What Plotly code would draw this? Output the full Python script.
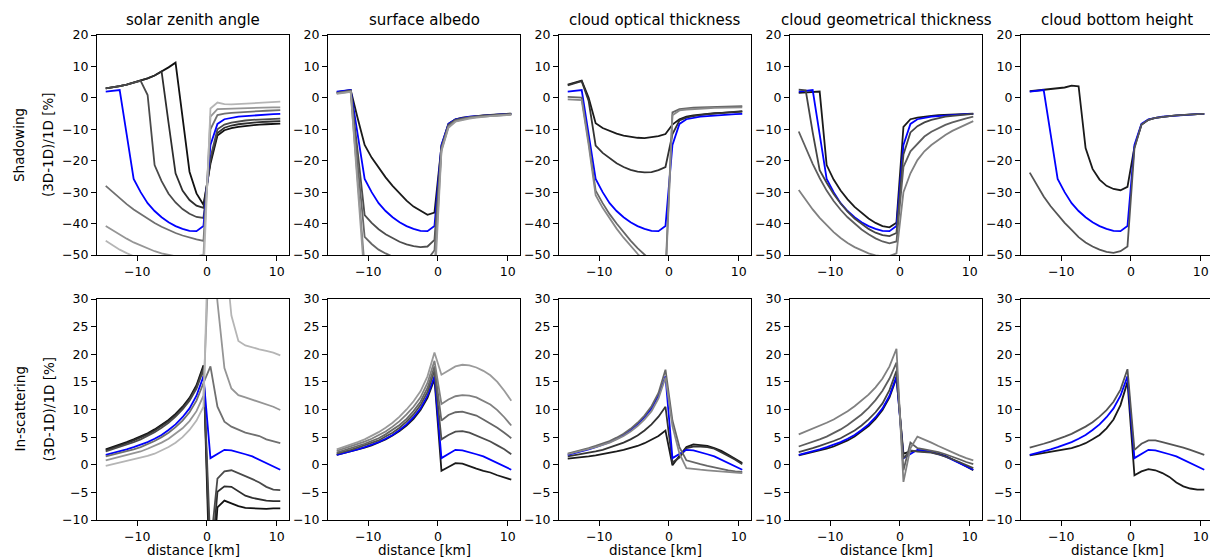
import plotly.graph_objects as go

# ---------------- data ----------------
x_km = [-14.5, -13.5, -12.5, -11.5, -10.5, -9.5, -8.5, -7.5, -6.5, -5.5, -4.5, -3.5, -2.5, -1.5, -0.5,
        0.5, 1.5, 2.5, 3.5, 4.5, 5.5, 6.5, 7.5, 8.5, 9.5, 10.5]

titles = ["solar zenith angle", "surface albedo", "cloud optical thickness",
          "cloud geometrical thickness", "cloud bottom height"]

ref_shadow = [2.0, 2.3, 2.5, -11.6, -25.8, -30.0, -33.5, -36.0, -38.0, -39.6, -40.8, -41.7, -42.3, -42.4, -40.8,
              -15.0, -8.3, -6.8, -6.3, -6.0, -5.8, -5.6, -5.5, -5.3, -5.2, -5.1]
ref_inscat = [1.8, 2.1, 2.4, 2.8, 3.2, 3.6, 4.1, 4.7, 5.4, 6.3, 7.3, 8.6, 10.2, 12.5, 16.0,
              1.2, 2.0, 2.7, 2.6, 2.3, 1.9, 1.5, 0.9, 0.4, -0.2, -0.9]

# solar zenith angle
sza_colors = ["#111111", "#2e2e2e", "#4a4a4a", "blue", "#707070", "#959595", "#b5b5b5"]
sza_shadow = [
    [3.0, 3.3, 3.7, 4.2, 4.8, 5.4, 6.2, 7.1, 8.3, 9.7, 11.2, -6.0, -23.5, -30.4, -34.0,
     -21.0, -12.0, -10.3, -9.6, -9.2, -8.9, -8.7, -8.5, -8.4, -8.3, -8.2],
    [3.0, 3.3, 3.7, 4.2, 4.8, 5.4, 6.2, 7.1, 8.4, -8.0, -24.0, -29.5, -32.5, -34.3, -35.0,
     -20.0, -11.2, -9.5, -8.8, -8.4, -8.1, -7.9, -7.7, -7.6, -7.5, -7.4],
    [3.0, 3.3, 3.7, 4.2, 4.8, 5.4, 0.9, -21.4, -26.5, -30.5, -33.3, -35.4, -36.9, -37.9, -38.2,
     -19.0, -10.0, -8.5, -7.9, -7.5, -7.2, -7.0, -6.9, -6.8, -6.7, -6.6],
    ref_shadow,
    [-28.0, -30.0, -32.0, -33.8, -35.5, -37.0, -38.5, -39.8, -41.0, -42.1, -43.0, -43.8, -44.5, -45.0, -45.5,
     -10.0, -5.5, -5.0, -4.8, -4.6, -4.5, -4.4, -4.2, -4.1, -4.0, -3.9],
    [-40.8, -42.2, -43.5, -44.8, -46.0, -47.0, -48.0, -48.8, -49.5, -50.0, -50.4, -50.6, -50.6, -50.4, -50.0,
     -6.0, -3.6, -3.5, -3.4, -3.3, -3.2, -3.2, -3.1, -3.1, -3.0, -3.0],
    [-45.5, -47.0, -48.3, -49.4, -50.5, -51.5, -52.4, -53.2, -54.0, -54.6, -55.2, -55.6, -56.0, -56.2, -56.0,
     -3.4, -1.5, -2.0, -2.1, -2.0, -1.9, -1.8, -1.7, -1.6, -1.4, -1.2],
]
sza_inscat = [
    [2.8, 3.2, 3.6, 4.1, 4.6, 5.1, 5.7, 6.4, 7.2, 8.1, 9.2, 10.5, 12.1, 14.4, 18.0,
     -25.0, -7.7, -6.5, -7.0, -7.5, -7.8, -7.9, -8.0, -8.0, -7.9, -7.9],
    [2.6, 3.0, 3.4, 3.9, 4.4, 4.9, 5.5, 6.2, 7.0, 7.9, 9.0, 10.3, 11.9, 14.1, 17.6,
     -20.0, -4.9, -3.9, -4.0, -4.8, -5.6, -6.0, -6.3, -6.5, -6.6, -6.6],
    [2.4, 2.8, 3.2, 3.6, 4.1, 4.6, 5.2, 5.9, 6.7, 7.6, 8.7, 10.0, 11.6, 13.8, 17.2,
     -15.0, -2.5, -1.2, -1.0, -1.5, -2.0, -2.6, -3.2, -4.0, -4.5, -4.6],
    ref_inscat,
    [1.5, 1.8, 2.1, 2.4, 2.8, 3.2, 3.7, 4.3, 5.0, 5.8, 6.8, 8.0, 9.5, 11.6, 14.8,
     17.8, 10.5, 7.8, 6.9, 6.4, 5.8, 5.5, 5.2, 4.6, 4.3, 3.9],
    [0.8, 1.1, 1.4, 1.7, 2.0, 2.4, 2.9, 3.4, 4.0, 4.7, 5.6, 6.6, 7.9, 9.7, 12.5,
     45.0, 29.5, 17.5, 13.8, 12.6, 12.2, 11.8, 11.4, 10.9, 10.5, 9.9],
    [-0.2, 0.1, 0.3, 0.6, 0.9, 1.2, 1.6, 2.0, 2.6, 3.2, 4.0, 5.0, 6.3, 8.0, 10.5,
     55.0, 48.0, 40.0, 27.0, 22.4, 21.6, 21.2, 20.9, 20.6, 20.3, 19.8],
]

# surface albedo
alb_colors = ["#1a1a1a", "blue", "#4d4d4d", "#666666", "#808080", "#9a9a9a"]
alb_shadow = [
    [1.8, 2.2, 2.5, -6.5, -15.0, -19.0, -22.3, -25.3, -28.0, -30.5, -32.7, -34.6, -36.0, -37.2, -36.5,
     -15.3, -8.3, -6.8, -6.3, -6.0, -5.8, -5.6, -5.4, -5.3, -5.2, -5.0],
    ref_shadow,
    [1.6, 2.0, 2.3, -17.0, -37.3, -39.8, -41.8, -43.4, -44.7, -45.8, -46.6, -47.2, -47.5, -47.3, -45.2,
     -15.8, -8.6, -7.0, -6.5, -6.1, -5.9, -5.7, -5.5, -5.4, -5.3, -5.1],
    [1.5, 1.9, 2.2, -21.0, -44.2, -46.5, -48.3, -49.5, -50.5, -51.2, -51.8, -52.0, -52.0, -51.5, -48.5,
     -16.2, -8.9, -7.2, -6.6, -6.2, -6.0, -5.8, -5.6, -5.5, -5.3, -5.2],
    [1.4, 1.8, 2.0, -26.0, -54.0, -56.0, -57.5, -58.5, -59.2, -59.7, -60.0, -60.0, -59.8, -59.0, -55.0,
     -16.6, -9.2, -7.4, -6.8, -6.4, -6.1, -5.9, -5.7, -5.6, -5.4, -5.3],
    [1.3, 1.7, 1.9, -28.0, -58.0, -60.0, -61.5, -62.5, -63.2, -63.7, -64.0, -64.0, -63.8, -63.0, -60.0,
     -17.0, -9.5, -7.6, -7.0, -6.6, -6.3, -6.0, -5.8, -5.7, -5.5, -5.4],
]
alb_inscat = [
    [1.8, 2.1, 2.4, 2.7, 3.1, 3.5, 4.0, 4.6, 5.3, 6.1, 7.1, 8.3, 9.9, 12.1, 15.5,
     -1.1, -0.4, 0.3, 0.2, -0.3, -0.7, -1.1, -1.4, -1.9, -2.3, -2.7],
    ref_inscat,
    [2.0, 2.3, 2.7, 3.1, 3.5, 3.9, 4.4, 5.1, 5.8, 6.7, 7.8, 9.1, 10.8, 13.2, 17.0,
     4.6, 5.4, 6.0, 6.1, 5.8, 5.3, 4.7, 4.2, 3.5, 2.8, 1.9],
    [2.2, 2.6, 2.9, 3.3, 3.8, 4.3, 4.8, 5.5, 6.3, 7.2, 8.3, 9.7, 11.4, 13.9, 17.8,
     8.0, 9.0, 9.5, 9.6, 9.3, 8.9, 8.2, 7.5, 6.7, 5.8, 4.8],
    [2.5, 2.9, 3.3, 3.7, 4.2, 4.7, 5.3, 6.0, 6.9, 7.9, 9.1, 10.5, 12.2, 14.8, 18.8,
     11.0, 11.8, 12.4, 12.6, 12.5, 12.2, 11.6, 10.9, 9.9, 8.6, 7.1],
    [2.8, 3.2, 3.6, 4.1, 4.6, 5.2, 5.9, 6.7, 7.6, 8.7, 10.0, 11.5, 13.3, 16.0, 20.3,
     16.3, 17.0, 17.8, 18.1, 18.0, 17.6, 17.0, 16.2, 15.0, 13.4, 11.6],
]

# cloud optical thickness
cot_colors = ["#1a1a1a", "#333333", "blue", "#666666", "#888888"]
cot_shadow = [
    [4.2, 4.8, 5.5, 0.0, -8.1, -9.6, -10.6, -11.4, -12.0, -12.4, -12.7, -12.8, -12.6, -12.2, -11.5,
     -8.5, -6.8, -6.0, -5.6, -5.3, -5.1, -4.9, -4.8, -4.7, -4.6, -4.4],
    [4.0, 4.7, 5.3, -1.0, -15.2, -17.5, -19.3, -20.8, -22.0, -22.9, -23.5, -23.7, -23.6, -23.0, -22.0,
     -11.5, -7.2, -6.3, -5.8, -5.4, -5.2, -5.0, -4.8, -4.6, -4.4, -4.2],
    ref_shadow,
    [0.3, 0.2, 0.1, -14.0, -29.5, -33.5, -37.0, -40.0, -42.8, -45.4, -47.8, -50.0, -52.0, -54.0, -56.0,
     -4.6, -3.6, -3.3, -3.1, -3.0, -2.9, -2.8, -2.8, -2.7, -2.7, -2.6],
    [-0.5, -0.6, -0.7, -15.0, -31.0, -35.0, -38.5, -41.6, -44.5, -47.2, -49.6, -52.0, -54.0, -56.0, -58.0,
     -5.5, -4.0, -3.7, -3.5, -3.4, -3.3, -3.2, -3.1, -3.1, -3.0, -3.0],
]
cot_inscat = [
    [1.1, 1.2, 1.3, 1.5, 1.7, 1.9, 2.1, 2.4, 2.7, 3.0, 3.4, 3.9, 4.5, 5.2, 6.2,
     -0.1, 1.6, 3.2, 3.7, 3.6, 3.4, 3.0, 2.5, 1.8, 1.1, 0.3],
    [1.5, 1.7, 1.9, 2.1, 2.4, 2.7, 3.1, 3.5, 4.0, 4.6, 5.3, 6.2, 7.3, 8.7, 10.5,
     0.4, 1.3, 3.0, 3.3, 3.3, 3.2, 2.9, 2.3, 1.6, 0.9, 0.1],
    ref_inscat,
    [2.0, 2.3, 2.6, 3.0, 3.4, 3.8, 4.3, 4.9, 5.6, 6.5, 7.6, 8.9, 10.6, 13.0, 17.2,
     8.0, 3.2, 0.8, 0.4, 0.1, -0.2, -0.5, -0.8, -1.0, -1.2, -1.3],
    [1.9, 2.2, 2.5, 2.8, 3.2, 3.6, 4.0, 4.6, 5.2, 6.0, 7.0, 8.2, 9.7, 12.0, 15.8,
     7.0, 2.0, -0.6, -0.8, -0.9, -1.0, -1.1, -1.2, -1.3, -1.4, -1.5],
]

# cloud geometrical thickness
cgt_colors = ["#1a1a1a", "blue", "#444444", "#5e5e5e", "#808080"]
cgt_shadow = [
    [1.6, 1.7, 1.9, 2.0, -21.4, -26.0, -29.5, -32.3, -34.7, -36.7, -38.4, -39.8, -40.8, -41.2, -39.7,
     -9.2, -6.8, -6.3, -5.9, -5.7, -5.5, -5.4, -5.3, -5.2, -5.1, -5.0],
    ref_shadow,
    [2.6, 2.4, -11.0, -23.0, -27.0, -30.6, -33.6, -36.2, -38.4, -40.2, -41.7, -42.9, -43.7, -44.0, -43.0,
     -18.0, -11.0, -9.0, -7.8, -7.0, -6.4, -6.0, -5.7, -5.5, -5.3, -5.1],
    [-10.7, -16.0, -21.0, -25.5, -29.5, -32.8, -35.6, -38.0, -40.1, -41.9, -43.4, -44.7, -45.7, -46.3, -45.7,
     -22.0, -17.0, -14.5, -12.3, -10.8, -9.6, -8.6, -7.8, -7.1, -6.5, -6.0],
    [-29.3, -32.5, -35.5, -38.2, -40.6, -42.7, -44.6, -46.2, -47.5, -48.6, -49.5, -50.1, -50.4, -50.3, -49.5,
     -30.0, -24.0, -19.8, -17.0, -15.0, -13.3, -11.8, -10.5, -9.4, -8.4, -7.4],
]
cgt_inscat = [
    [1.7, 2.0, 2.2, 2.5, 2.9, 3.3, 3.8, 4.4, 5.1, 6.0, 7.0, 8.3, 9.9, 12.2, 15.7,
     2.0, 2.4, 2.5, 2.4, 2.3, 2.0, 1.6, 1.0, 0.4, -0.3, -1.0],
    ref_inscat,
    [2.3, 2.6, 3.0, 3.4, 3.8, 4.3, 4.8, 5.5, 6.2, 7.1, 8.2, 9.5, 11.1, 13.5, 17.0,
     1.2, 2.6, 2.4, 2.3, 2.2, 1.9, 1.5, 1.0, 0.5, -0.1, -0.6],
    [3.3, 3.7, 4.1, 4.6, 5.1, 5.7, 6.4, 7.2, 8.1, 9.1, 10.3, 11.7, 13.4, 15.6, 18.5,
     -1.0, 4.0, 3.0, 2.8, 2.6, 2.3, 1.9, 1.5, 1.0, 0.5, 0.1],
    [5.5, 6.0, 6.5, 7.0, 7.6, 8.2, 8.9, 9.7, 10.6, 11.6, 12.7, 14.0, 15.6, 17.8, 21.0,
     -3.1, 3.0, 5.1, 4.6, 4.0, 3.4, 2.8, 2.2, 1.7, 1.2, 0.8],
]

# cloud bottom height
cbh_colors = ["#1a1a1a", "blue", "#555555"]
cbh_shadow = [
    [2.1, 2.3, 2.5, 2.7, 3.0, 3.3, 3.9, 3.7, -16.0, -22.6, -26.0, -28.0, -29.0, -29.4, -28.3,
     -15.6, -8.6, -7.0, -6.4, -6.0, -5.8, -5.6, -5.4, -5.3, -5.2, -5.1],
    ref_shadow,
    [-23.8, -27.8, -31.4, -34.5, -37.3, -39.8, -42.0, -44.3, -46.0, -47.3, -48.3, -49.0, -49.3, -48.8, -47.3,
     -16.0, -8.5, -7.0, -6.4, -6.0, -5.8, -5.6, -5.4, -5.3, -5.2, -5.1],
]
cbh_inscat = [
    [1.7, 1.9, 2.1, 2.3, 2.5, 2.7, 3.0, 3.4, 3.9, 4.6, 5.4, 6.6, 8.2, 10.8, 15.0,
     -1.9, -1.2, -0.8, -1.0, -1.5, -2.2, -3.2, -3.9, -4.3, -4.5, -4.5],
    ref_inscat,
    [3.1, 3.4, 3.8, 4.2, 4.6, 5.1, 5.6, 6.2, 6.9, 7.7, 8.7, 9.9, 11.4, 13.6, 17.3,
     2.7, 3.8, 4.4, 4.4, 4.1, 3.8, 3.5, 3.1, 2.7, 2.2, 1.8],
]

x_ticks = [-10, 0, 10]
shadow_ticks = [-50, -40, -30, -20, -10, 0, 10, 20]
inscat_ticks = [-10, -5, 0, 5, 10, 15, 20, 25, 30]
row_labels = ["Shadowing", "In-scattering"]
unit_label = "(3D-1D)/1D [%]"
x_label = "distance [km]"

# ---------------- layout ----------------
W, H = 1210, 560
FONT = "DejaVu Sans"
lefts = [97, 328, 559, 790, 1021]
pw = 192
rows_px = [(35, 255), (299, 520)]
xr = [-15.75, 11.75]
yranges = [[-50, 20], [-10, 30]]
yticks = [shadow_ticks, inscat_ticks]


def ypap(py):
    return 1 - py / H


panels = [
    (sza_shadow, sza_inscat, sza_colors),
    (alb_shadow, alb_inscat, alb_colors),
    (cot_shadow, cot_inscat, cot_colors),
    (cgt_shadow, cgt_inscat, cgt_colors),
    (cbh_shadow, cbh_inscat, cbh_colors),
]

fig = go.Figure()
layout = dict(width=W, height=H, margin=dict(l=0, r=0, t=0, b=0, pad=0, autoexpand=False),
              paper_bgcolor="white", plot_bgcolor="white", showlegend=False,
              font=dict(family=FONT, size=12.5, color="black"))
annotations = []

for r in range(2):
    top, bot = rows_px[r]
    ydom = [ypap(bot), ypap(top)]
    for c in range(5):
        idx = r * 5 + c + 1
        left = lefts[c]
        right = min(left + pw, W)
        xend = xr[0] + (right - left) / pw * (xr[1] - xr[0])
        xdom = [left / W, right / W]
        xa = "xaxis" if idx == 1 else f"xaxis{idx}"
        ya = "yaxis" if idx == 1 else f"yaxis{idx}"
        xref = "x" if idx == 1 else f"x{idx}"
        yref = "y" if idx == 1 else f"y{idx}"
        layout[xa] = dict(domain=xdom, range=[xr[0], xend], anchor=yref,
                          tickmode="array", tickvals=x_ticks,
                          showline=True, linecolor="black", linewidth=1, mirror=True,
                          ticks="outside", ticklen=5, tickwidth=1, tickcolor="black",
                          showgrid=False, zeroline=False, automargin=False,
                          tickfont=dict(family=FONT, size=12.5, color="black"))
        layout[ya] = dict(domain=ydom, range=yranges[r], anchor=xref,
                          tickmode="array", tickvals=yticks[r],
                          showline=True, linecolor="black", linewidth=1,
                          mirror=(c < 4),
                          ticks="outside", ticklen=5, tickwidth=1, tickcolor="black",
                          showgrid=False, zeroline=False, automargin=False,
                          tickfont=dict(family=FONT, size=12.5, color="black"))
        series = panels[c][r]
        colors = panels[c][2]
        for s, col in zip(series, colors):
            fig.add_trace(go.Scatter(x=x_km, y=s, mode="lines",
                                     line=dict(color=col, width=1.8),
                                     xaxis=xref, yaxis=yref, hoverinfo="skip"))
        cx = (left + left + pw) / 2 / W
        if r == 0:
            annotations.append(dict(text=titles[c], x=cx, y=ypap(20), xref="paper", yref="paper",
                                    xanchor="center", yanchor="middle", showarrow=False,
                                    font=dict(family=FONT, size=15, color="black")))
        else:
            annotations.append(dict(text=x_label, x=cx, y=ypap(550), xref="paper", yref="paper",
                                    xanchor="center", yanchor="middle", showarrow=False,
                                    font=dict(family=FONT, size=13.5, color="black")))
    cy = ypap((top + bot) / 2)
    annotations.append(dict(text=row_labels[r], x=19 / W, y=cy, xref="paper", yref="paper",
                            xanchor="center", yanchor="middle", textangle=-90, showarrow=False,
                            font=dict(family=FONT, size=13.5, color="black")))
    annotations.append(dict(text=unit_label, x=48 / W, y=cy, xref="paper", yref="paper",
                            xanchor="center", yanchor="middle", textangle=-90, showarrow=False,
                            font=dict(family=FONT, size=13.5, color="black")))

layout["annotations"] = annotations
fig.update_layout(**layout)
fig.write_html("out.html")
